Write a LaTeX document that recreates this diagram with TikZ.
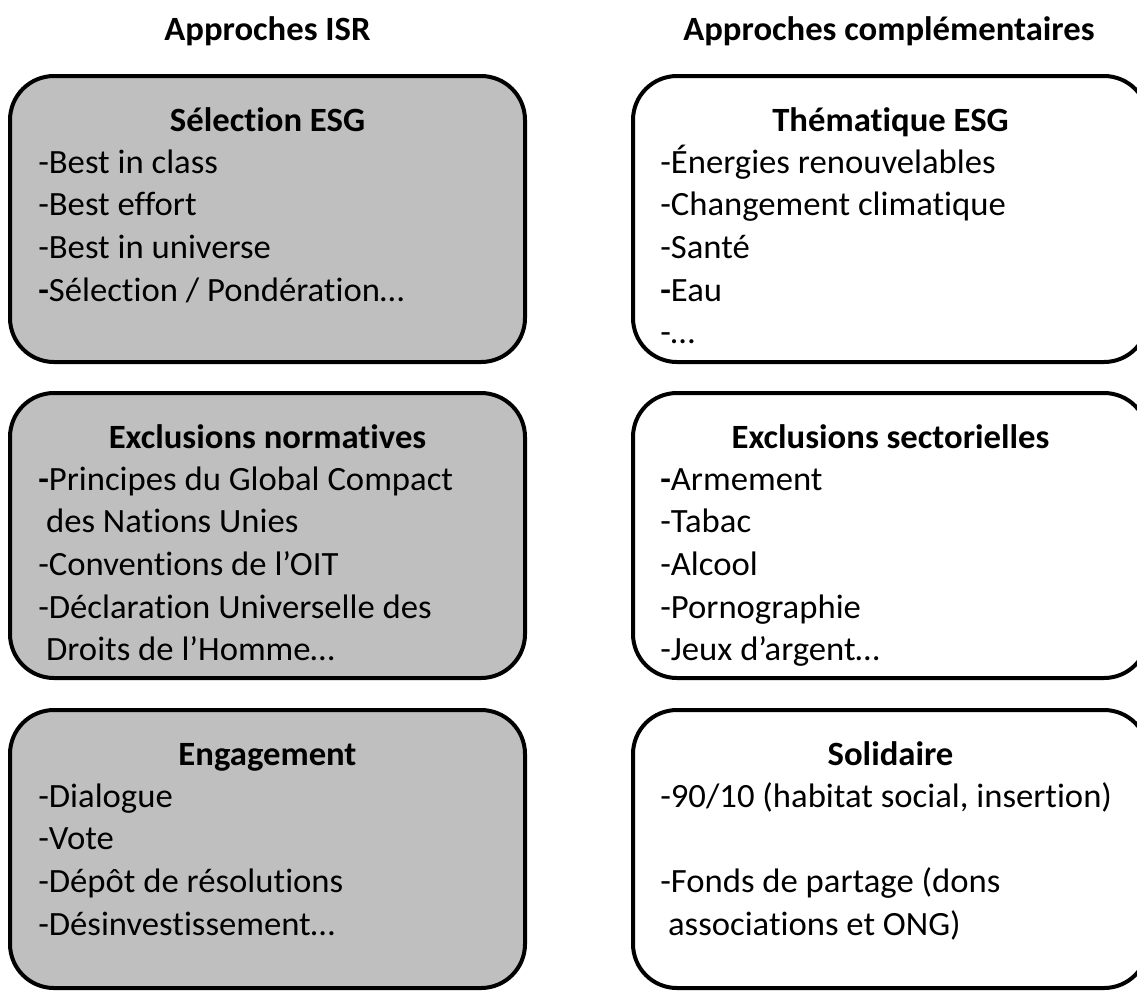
\documentclass[tikz,border=0pt]{standalone}
\usepackage{fontspec}
\setmainfont[Ligatures={NoCommon},FakeStretch=1.02]{Carlito}
\definecolor{isrgray}{RGB}{191,191,191}
\begin{document}
\begin{tikzpicture}[x=0.75pt,y=-0.75pt,
  box/.style={draw=black, line width=3pt, rounded corners=33pt, minimum width=386.25pt, inner sep=0pt},
  isr/.style={box, fill=isrgray},
  comp/.style={box, fill=white},
  head/.style={font=\fontsize{25.5}{30}\selectfont\bfseries, anchor=base, inner sep=0pt},
  ttl/.style={font=\fontsize{25.5}{30}\selectfont\bfseries, anchor=base, inner sep=0pt},
  body/.style={font=\fontsize{25.5}{32}\selectfont, anchor=base west, inner sep=0pt}]
\useasboundingbox (0,0) rectangle (1137,990);
\clip (0,0) rectangle (1137,990);

% headers
\node[head] (h1) at (267.5,40) {Approches ISR};
\node[head] (h2) at (889,40) {Approches complémentaires};

% boxes
\node[isr, minimum height=214.5pt] (l1) at (267.5,219) {};
\node[isr, minimum height=213.75pt] (l2) at (267.5,535.5) {};
\node[isr, minimum height=208.5pt] (l3) at (267.5,849) {};
\node[comp, minimum height=214.5pt] (r1) at (890.5,219) {};
\node[comp, minimum height=213.75pt] (r2) at (890.5,535.5) {};
\node[comp, minimum height=208.5pt] (r3) at (890.5,849) {};

% titles
\node[ttl] (t1) at (267.5,131) {Sélection ESG};
\node[ttl] (t2) at (267.5,448) {Exclusions normatives};
\node[ttl] (t3) at (267.5,765) {Engagement};
\node[ttl] (t4) at (890.5,131) {Thématique ESG};
\node[ttl] (t5) at (890.5,448) {Exclusions sectorielles};
\node[ttl] (t6) at (890.5,765) {Solidaire};

% bodies
\node[body] (c1) at (38,173) {\begin{tabular}[t]{@{}l@{}}
-Best in class\\
-Best effort\\
-Best in universe\\
\textbf{-}Sélection / Pondération…
\end{tabular}};
\node[body] (c2) at (38,490) {\begin{tabular}[t]{@{}l@{}}
\textbf{-}Principes du Global Compact\\
\ des Nations Unies\\
-Conventions de l’OIT\\
-Déclaration Universelle des\\
\ Droits de l’Homme…
\end{tabular}};
\node[body] (c3) at (38,807) {\begin{tabular}[t]{@{}l@{}}
-Dialogue\\
-Vote\\
-Dépôt de résolutions\\
-Désinvestissement…
\end{tabular}};
\node[body] (c4) at (660,173) {\begin{tabular}[t]{@{}l@{}}
-Énergies renouvelables\\
-Changement climatique\\
-Santé\\
\textbf{-}Eau\\
-…
\end{tabular}};
\node[body] (c5) at (660,490) {\begin{tabular}[t]{@{}l@{}}
\textbf{-}Armement\\
-Tabac\\
-Alcool\\
-Pornographie\\
-Jeux d’argent…
\end{tabular}};
\node[body] (c6) at (660,807) {\begin{tabular}[t]{@{}l@{}}
-90/10 (habitat social, insertion)\\
\\
-Fonds de partage (dons\\
\ associations et ONG)
\end{tabular}};
\end{tikzpicture}
\end{document}
